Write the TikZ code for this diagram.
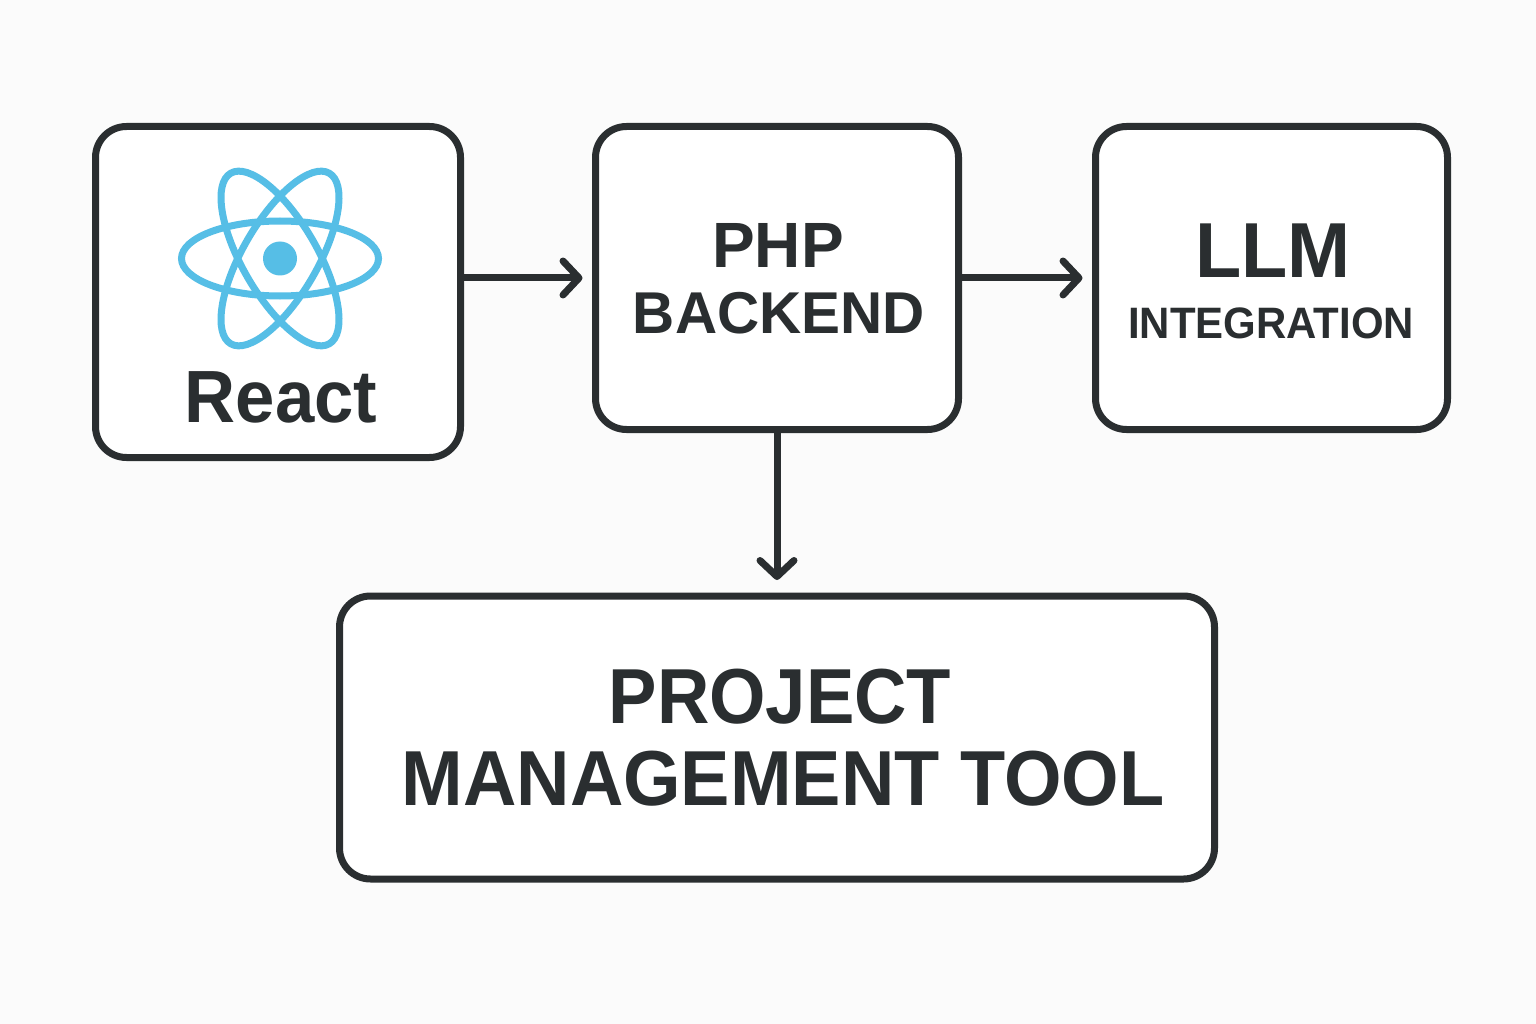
\documentclass[tikz,border=0pt]{standalone}
\usepackage{fontspec}
\usepackage{graphicx}
\setmainfont{Liberation Sans}
\usetikzlibrary{arrows.meta}
\definecolor{ink}{HTML}{2A2E30}
\definecolor{reactblue}{HTML}{56BEE6}
\definecolor{paper}{HTML}{FBFBFB}
\tikzset{
  x=1pt,y=-1pt,
  boxnode/.style={draw=ink,line width=7pt,rounded corners=31pt,fill=white,inner sep=0pt,outer sep=0pt,anchor=north west},
  label/.style={text=ink,inner sep=0pt,anchor=base},
  conn/.style={draw=ink,line width=7pt,-{Straight Barb[length=16pt,width=34pt,line width=7pt,round]}},
  orbit/.style={draw=reactblue,line width=7pt},
}
\begin{document}
\begin{tikzpicture}
\useasboundingbox (0,0) rectangle (1536,1024);
\fill[paper] (0,0) rectangle (1536,1024);
\node[boxnode,minimum width=365pt,minimum height=331pt] (react) at (95.5,126.5) {};
\node[boxnode,minimum width=363pt,minimum height=303pt] (php) at (595.5,126.5) {};
\node[boxnode,minimum width=352pt,minimum height=303pt] (llm) at (1095.5,126.5) {};
\node[boxnode,minimum width=875pt,minimum height=283pt] (pm) at (339.5,596) {};
\draw[conn,shorten >=13pt] (react.east |- php.west) -- (php.west);
\draw[conn,shorten >=13pt] (php.east) -- (llm.west);
\draw[conn,shorten >=16pt] (php.south) -- (php.south |- pm.north);
% atom
\draw[orbit] (280,258.5) ellipse [x radius=98.5pt,y radius=37.5pt];
\draw[orbit,rotate around={60:(280,258.5)}] (280,258.5) ellipse [x radius=98.5pt,y radius=37.5pt];
\draw[orbit,rotate around={-60:(280,258.5)}] (280,258.5) ellipse [x radius=98.5pt,y radius=37.5pt];
\fill[reactblue] (280,258.5) circle (17pt);
\node[label,font=\bfseries\fontsize{74}{74}\selectfont] (t1) at (281,422) {\scalebox{.955}[1]{React}};
\node[label,font=\bfseries\fontsize{64}{64}\selectfont] (t2) at (778,268) {PHP};
\node[label,font=\bfseries\fontsize{59}{59}\selectfont] (t3) at (779,333) {\scalebox{.99}[1]{BACKEND}};
\node[label,font=\bfseries\fontsize{78}{78}\selectfont] (t4) at (1273,278) {\scalebox{.97}[1]{LLM}};
\node[label,font=\bfseries\fontsize{44}{44}\selectfont] (t5) at (1271,338) {\scalebox{.953}[1]{INTEGRATION}};
\node[label,font=\bfseries\fontsize{78}{78}\selectfont] (t6) at (780,723) {\scalebox{.93}[1]{PROJECT}};
\node[label,font=\bfseries\fontsize{78}{78}\selectfont] (t7) at (783,805) {\scalebox{.948}[1]{MANAGEMENT TOOL}};
\end{tikzpicture}
\end{document}
